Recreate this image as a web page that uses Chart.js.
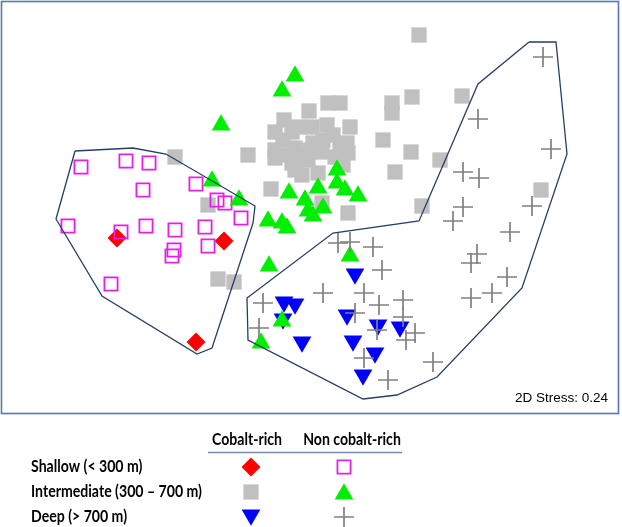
<!DOCTYPE html>
<html>
<head>
<meta charset="utf-8">
<script src="https://cdn.jsdelivr.net/npm/chart.js@4"></script>
<style>
  html, body { margin: 0; padding: 0; background: #fff; }
  #wrap { width: 622px; height: 527px; }
</style>
</head>
<body>
<div id="wrap"><canvas id="myChart" width="622" height="527"></canvas></div>
<script>
// ordination coordinates (arbitrary units, y grows downward)
let shallowCo = [[117, 238], [224, 241], [196, 342]];
let shallowNon = [[81, 167], [126, 161], [149, 163], [143, 190], [196, 184], [217, 200], [225, 203], [241, 218],
  [68, 226], [121, 232], [146, 226], [175, 230], [205, 227], [174, 250], [172, 256], [208, 246], [111, 284]];
let interCo = [[419, 35], [462, 96], [412, 97], [392, 103], [392, 113], [383, 140], [411, 152], [440, 160],
  [395, 172], [422, 206], [541, 190], [175, 157], [248, 155], [271, 189], [208, 205], [218, 279], [234, 282],
  [322, 203], [348, 213], [309, 111], [328, 103], [340, 103], [284, 120], [350, 127],
  [275, 132], [275, 150], [292, 132], [298, 127], [312, 127], [327, 125], [333, 135], [347, 143], [348, 153],
  [295, 148], [313, 143], [323, 140], [322, 152], [302, 155], [285, 155], [275, 158], [295, 170], [302, 175],
  [318, 173], [343, 165], [335, 157], [292, 163], [308, 160], [283, 140], [340, 148], [310, 150]];
let interNon = [[295, 76], [282, 91], [221, 125], [212, 181], [239, 200], [289, 193], [305, 200], [318, 188],
  [337, 170], [337, 183], [345, 190], [358, 196], [308, 211], [313, 216], [323, 208], [268, 221], [282, 223],
  [287, 228], [269, 266], [350, 256], [282, 321], [261, 343]];
let deepCo = [[355, 274], [284, 302], [295, 304], [283, 319], [302, 342], [347, 315], [378, 325], [400, 327],
  [353, 341], [375, 353], [363, 375]];
let deepNon = [[543, 57], [478, 119], [551, 149], [463, 172], [479, 178], [463, 207], [532, 206], [453, 221],
  [510, 232], [477, 254], [471, 263], [507, 277], [492, 293], [471, 298], [338, 243], [350, 242], [373, 247],
  [382, 270], [323, 293], [364, 293], [379, 305], [403, 300], [403, 317], [355, 313], [377, 330], [415, 333],
  [406, 340], [364, 358], [433, 362], [388, 380], [263, 303], [259, 328]];

// group outlines
let hullShallow = [[75, 151], [133, 148], [166, 154], [255, 206], [253, 223], [212, 348], [197, 354],
  [102, 296], [56, 219], [75, 151]];
let hullDeep = [[529, 42], [556, 42], [567, 154], [522, 288], [437, 377], [397, 395], [363, 399],
  [248, 340], [247, 298], [333, 233], [419, 221], [478, 84], [529, 42]];

let rowLabels = ["Shallow (< 300 m)", "Intermediate (300 \u2013 700 m)", "Deep (> 700 m)"];
let colLabels = ["Cobalt-rich", "Non cobalt-rich"];
let stressLabel = "2D Stress: 0.24";

const pts = a => a.map(p => ({ x: p[0], y: p[1] }));

const styles = {
  shallowCo: { pointStyle: "rectRot", radius: 9.5, backgroundColor: "#ff0000", borderColor: "#ff0000", borderWidth: 0 },
  shallowNon: { pointStyle: "rect", radius: 9.3, backgroundColor: "rgba(0,0,0,0)", borderColor: "#e61ee6", borderWidth: 1.8 },
  interCo: { pointStyle: "rect", radius: 10.8, backgroundColor: "#c0c0c0", borderColor: "#c0c0c0", borderWidth: 0 },
  interNon: { pointStyle: "triangle", radius: 10.8, backgroundColor: "#00ee00", borderColor: "#00ee00", borderWidth: 0 },
  deepCo: { pointStyle: "triangle", rotation: 180, radius: 10.8, backgroundColor: "#0000ff", borderColor: "#0000ff", borderWidth: 0 },
  deepNon: { pointStyle: "cross", radius: 10, backgroundColor: "#808080", borderColor: "#808080", borderWidth: 1.7 },
};

function markerSet(label, data, s) {
  return {
    label: label,
    data: pts(data),
    pointStyle: s.pointStyle,
    rotation: s.rotation || 0,
    pointRadius: s.radius,
    pointHoverRadius: s.radius,
    backgroundColor: s.backgroundColor,
    borderColor: s.borderColor,
    borderWidth: s.borderWidth,
  };
}

function hullSet(data) {
  return {
    type: "line",
    data: pts(data),
    showLine: true,
    fill: false,
    tension: 0,
    borderColor: "#243f66",
    borderWidth: 1.3,
    pointRadius: 0,
    pointHoverRadius: 0,
  };
}

// draws text a bit condensed (the original uses a narrow bold face)
function narrowText(c, text, x, y, align) {
  const sx = 0.83;
  c.save();
  c.translate(x, y);
  c.scale(sx, 1);
  c.textAlign = align;
  c.fillText(text, 0, 0);
  c.restore();
}

const framePlugin = {
  id: "frame",
  beforeDraw(chart) {
    const c = chart.ctx;
    c.save();
    c.fillStyle = "#fff";
    c.fillRect(0, 0, chart.width, chart.height);
    c.restore();
  },
  afterDraw(chart) {
    const c = chart.ctx;
    const H = Chart.helpers;
    c.save();
    // plot frame
    c.strokeStyle = "#5a78a6";
    c.lineWidth = 1.6;
    c.strokeRect(1.5, 1.5, 617, 412);

    // stress text
    c.fillStyle = "#000";
    c.font = "13.5px 'Liberation Sans', Arial, sans-serif";
    c.textAlign = "right";
    c.textBaseline = "middle";
    c.fillText(stressLabel, 608, 398);

    // legend
    c.font = "bold 17px Lato, 'Open Sans', sans-serif";
    narrowText(c, colLabels[0], 247, 440, "center");
    narrowText(c, colLabels[1], 352, 440, "center");
    c.strokeStyle = "#6d8cb5";
    c.lineWidth = 1.5;
    c.beginPath();
    c.moveTo(208, 452.5);
    c.lineTo(402, 452.5);
    c.stroke();

    const rowsY = [467, 492, 517];
    rowLabels.forEach((t, i) => narrowText(c, t, 31, rowsY[i], "left"));

    const legendStyles = [
      [styles.shallowCo, styles.shallowNon],
      [styles.interCo, styles.interNon],
      [styles.deepCo, styles.deepNon],
    ];
    legendStyles.forEach((pair, i) => {
      pair.forEach((s, j) => {
        c.fillStyle = s.backgroundColor;
        c.strokeStyle = s.borderColor;
        c.lineWidth = s.borderWidth;
        H.drawPoint(c, { pointStyle: s.pointStyle, rotation: s.rotation || 0, radius: s.radius, borderWidth: s.borderWidth },
          j === 0 ? 251 : 344, rowsY[i] + (s.pointStyle === "triangle" ? (s.rotation ? -2 : 2) : 0));
      });
    });
    c.restore();
  },
};

const ctx = document.getElementById("myChart");
new Chart(ctx, {
  type: "scatter",
  data: {
    datasets: [
      hullSet(hullShallow),
      hullSet(hullDeep),
      markerSet(rowLabels[2] + " " + colLabels[1], deepNon, styles.deepNon),
      markerSet(rowLabels[1] + " " + colLabels[1], interNon, styles.interNon),
      markerSet(rowLabels[0] + " " + colLabels[1], shallowNon, styles.shallowNon),
      markerSet(rowLabels[0] + " " + colLabels[0], shallowCo, styles.shallowCo),
      markerSet(rowLabels[2] + " " + colLabels[0], deepCo, styles.deepCo),
      markerSet(rowLabels[1] + " " + colLabels[0], interCo, styles.interCo),
    ],
  },
  options: {
    responsive: false,
    animation: false,
    layout: { padding: 0, autoPadding: false },
    plugins: {
      legend: { display: false },
      tooltip: { enabled: false },
    },
    scales: {
      x: { type: "linear", display: false, min: 0, max: 622 },
      y: { type: "linear", display: false, min: 0, max: 527, reverse: true },
    },
  },
  plugins: [framePlugin],
});
</script>
</body>
</html>
